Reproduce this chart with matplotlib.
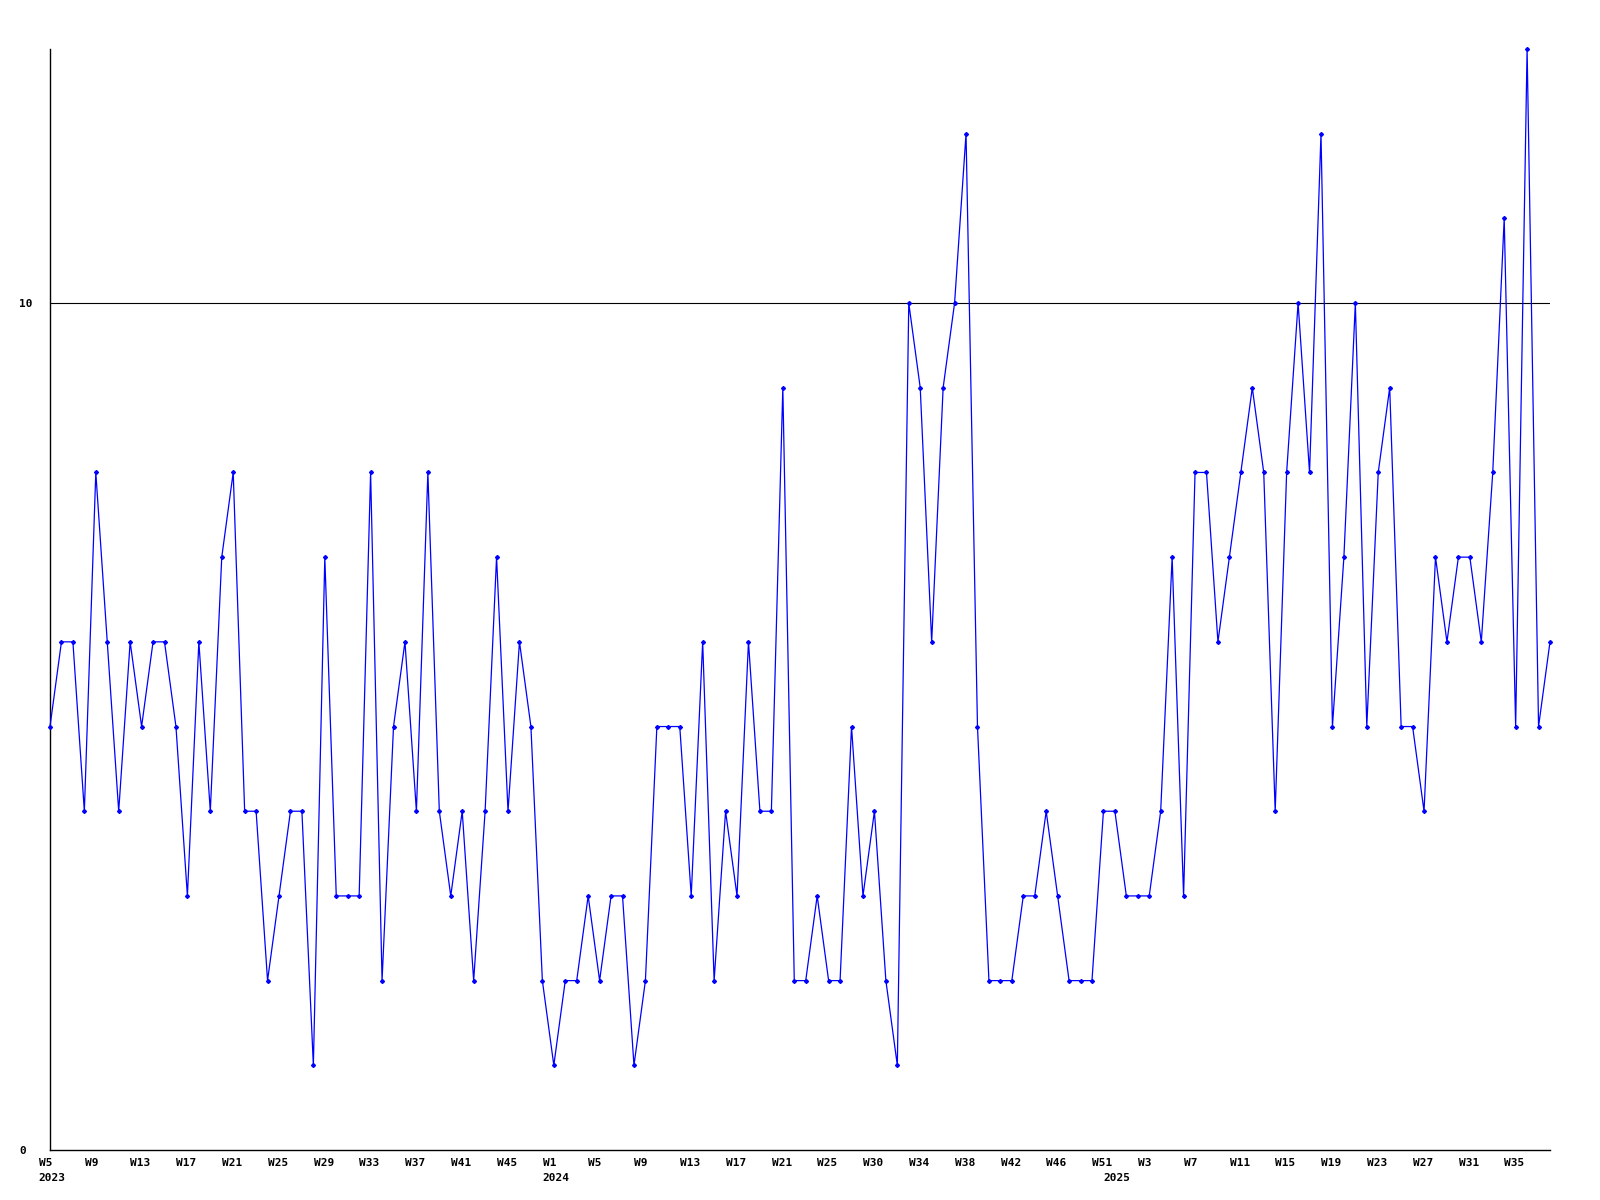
import matplotlib
matplotlib.use("Agg")
import matplotlib.pyplot as plt
import matplotlib.transforms as mtransforms

# weekly counts, 2023 W5 .. 2025 W38
counts = [
    5, 6, 6, 4, 8, 6, 4, 6, 5, 6, 6, 5, 3, 6, 4, 7, 8, 4, 4, 2,
    3, 4, 4, 1, 7, 3, 3, 3, 8, 2, 5, 6, 4, 8, 4, 3, 4, 2, 4, 7,
    4, 6, 5, 2, 1, 2, 2, 3, 2, 3, 3, 1, 2, 5, 5, 5, 3, 6, 2, 4,
    3, 6, 4, 4, 9, 2, 2, 3, 2, 2, 5, 3, 4, 2, 1, 10, 9, 6, 9, 10,
    12, 5, 2, 2, 2, 3, 3, 4, 3, 2, 2, 2, 4, 4, 3, 3, 3, 4, 7, 3,
    8, 8, 6, 7, 8, 9, 8, 4, 8, 10, 8, 12, 5, 7, 10, 5, 8, 9, 5, 5,
    4, 7, 6, 7, 7, 6, 8, 11, 5, 13, 5, 6,
]

week_labels = [
    "W5", "W9", "W13", "W17", "W21", "W25", "W29", "W33", "W37", "W41", "W45",
    "W1", "W5", "W9", "W13", "W17", "W21", "W25", "W30", "W34", "W38", "W42",
    "W46", "W51", "W3", "W7", "W11", "W15", "W19", "W23", "W27", "W31", "W35",
]
years = ["2023", "2024", "2025"]
year_index = [0, 44, 93]

font = "DejaVu Sans Mono"

fig = plt.figure(figsize=(16, 12), dpi=100)
ax = fig.add_axes([50 / 1600, 50 / 1200, 1500 / 1600, 1101 / 1200])

x = list(range(len(counts)))
ax.plot(x, counts, color="#0000ff", lw=0.9, marker="D", markersize=2.0,
        markerfacecolor="#0000ff", markeredgecolor="#0000ff", clip_on=False, zorder=3)

ax.set_xlim(0, len(counts) - 1)
ax.set_ylim(0, 13)

ax.axhline(10, color="black", lw=0.8, zorder=1)

ax.set_yticks([0, 10])
ax.set_yticklabels(["0", "10"], fontsize=8, fontweight="bold", family=font)
for t in ax.get_yticklabels():
    t.set_horizontalalignment("left")
ax.tick_params(axis="y", length=0, pad=22)

# x labels: left-aligned, starting ~11 px left of their point
ax.set_xticks([])
base = mtransforms.blended_transform_factory(ax.transData, ax.transAxes)
week_tr = base + mtransforms.ScaledTranslation(-11.3 / 100, -8 / 100, fig.dpi_scale_trans)
year_tr = base + mtransforms.ScaledTranslation(-11.3 / 100, -23 / 100, fig.dpi_scale_trans)
for i, lab in enumerate(week_labels):
    ax.text(4 * i, 0, lab, transform=week_tr, ha="left", va="top",
            fontsize=8, fontweight="bold", family=font)
for yr, idx in zip(years, year_index):
    ax.text(idx, 0, yr, transform=year_tr, ha="left", va="top",
            fontsize=8, fontweight="bold", family=font)

for side in ["top", "right"]:
    ax.spines[side].set_visible(False)
ax.spines["left"].set_linewidth(1)
ax.spines["bottom"].set_linewidth(1)

fig.savefig("out.png", dpi=100, facecolor="white")
